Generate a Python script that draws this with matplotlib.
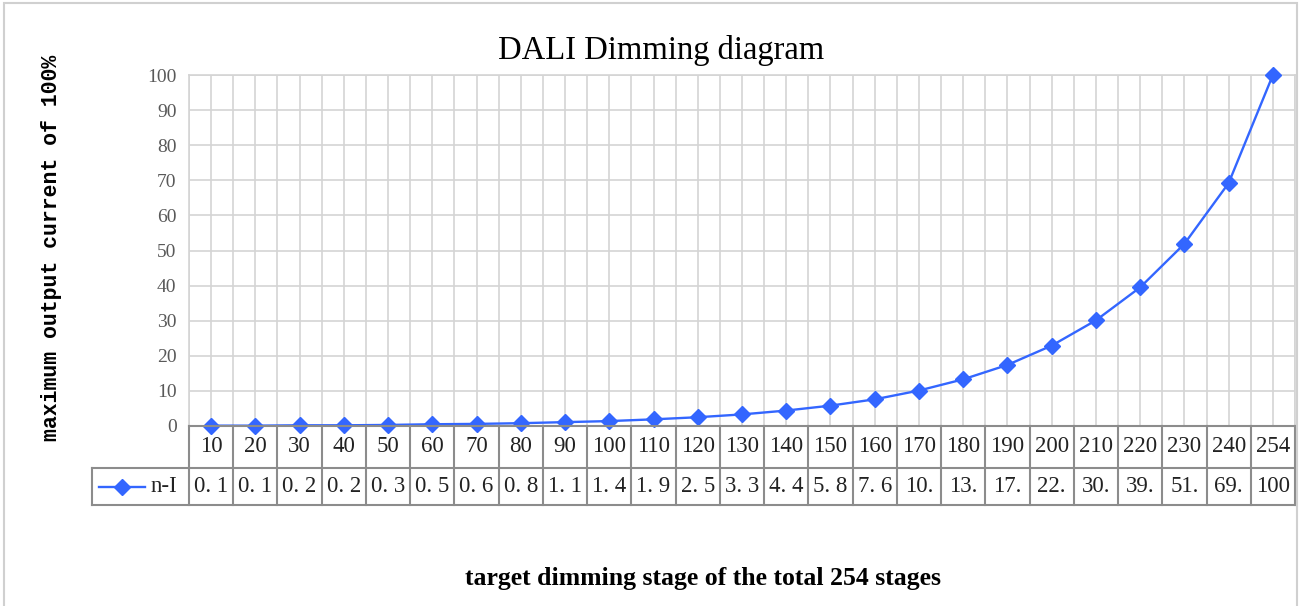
import numpy as np
import matplotlib.pyplot as plt
from matplotlib.transforms import blended_transform_factory
from matplotlib.patches import Rectangle

# data
stages = [10, 20, 30, 40, 50, 60, 70, 80, 90, 100, 110, 120, 130, 140, 150,
          160, 170, 180, 190, 200, 210, 220, 230, 240, 254]
current = [0.1, 0.1, 0.2, 0.2, 0.3, 0.5, 0.6, 0.8, 1.1, 1.4, 1.9, 2.5, 3.3, 4.4, 5.8,
           7.6, 10.1, 13.3, 17.4, 22.9, 30.1, 39.5, 51.9, 69.2, 100]
series_name = "n-I"
y_ticks = list(range(0, 101, 10))

blue = '#3366ff'
grid_c = '#d4d4d4'
tab_c = '#8c8c8c'
serif = 'Liberation Serif'
mono = 'Liberation Mono'

fig = plt.figure(figsize=(13, 6.06), dpi=100)
ax = fig.add_axes([189 / 1300, 180 / 606, 1106 / 1300, 351 / 606])

n = len(stages)
x = np.arange(n)
ax.plot(x, current, color=blue, lw=1.7, marker='D', ms=8, zorder=3, clip_on=False)

ax.set_xlim(-0.5, n - 0.5)
ax.set_ylim(0, 100)
ax.set_yticks(y_ticks)
ax.set_yticklabels([str(t) for t in y_ticks], fontfamily=serif, fontsize=14, color='#595959')
ax.set_xticks(np.arange(-0.5, n, 0.5))
ax.set_xticklabels([])
ax.tick_params(length=0, pad=9)
ax.grid(True, color=grid_c, lw=1.2)
ax.set_axisbelow(True)
for s in ax.spines.values():
    s.set_color(grid_c)
    s.set_linewidth(1.2)

# data table under the plot
tr = blended_transform_factory(ax.transData, ax.transAxes)
r1 = -42 / 351
r2 = -79 / 351
leg_left = -2.69
lk = dict(color=tab_c, lw=1.5, transform=tr, clip_on=False, zorder=4)
ax.plot([-0.5, n - 0.5], [0, 0], **lk)
ax.plot([-0.5, n - 0.5], [r1, r1], **lk)
ax.plot([leg_left, -0.5], [r1, r1], **lk)
ax.plot([leg_left, n - 0.5], [r2, r2], **lk)
for e in np.arange(-0.5, n, 1):
    ax.plot([e, e], [0, r2], **lk)
ax.plot([leg_left, leg_left], [r1, r2], **lk)

for i in range(n):
    ax.text(x[i], r1 / 2, str(stages[i]), transform=tr, ha='center', va='center',
            fontfamily=serif, fontsize=16.5, color='#222222')
    s = f"{current[i]:g}"[:3]
    if '.' in s and not s.endswith('.'):
        s = s.replace('.', '. ')
    ax.text(x[i], (r1 + r2) / 2, s, transform=tr, ha='center', va='center',
            fontfamily=serif, fontsize=16.5, color='#222222')

# legend key in the table
ax.plot([-2.534, -1.495], [(r1 + r2) / 2] * 2, color=blue, lw=1.7, transform=tr, clip_on=False)
ax.plot([-2.01], [(r1 + r2) / 2], color=blue, marker='D', ms=8, transform=tr, clip_on=False)
ax.text(-1.36, (r1 + r2) / 2, series_name, transform=tr, ha='left', va='center',
        fontfamily=serif, fontsize=16.5, color='#222222')

fig.text(661 / 1300, 1 - 50 / 606, 'DALI Dimming diagram', fontfamily=serif,
         fontsize=23.5, ha='center', va='center')
fig.text(52 / 1300, 1 - 248 / 606, 'maximum output current of 100%', rotation=90,
         fontfamily=mono, fontweight='bold', fontsize=15.5, ha='center', va='center')
fig.text(703 / 1300, 1 - 579 / 606, 'target dimming stage of the total 254 stages',
         fontfamily=serif, fontweight='bold', fontsize=18.5, ha='center', va='center')

fig.patches.append(Rectangle((4 / 1300, -0.02), 1293 / 1300, 603 / 606 + 0.02,
                             transform=fig.transFigure, fill=False, ec='#d0d0d0', lw=1.5))

fig.savefig('out.png', dpi=100)
